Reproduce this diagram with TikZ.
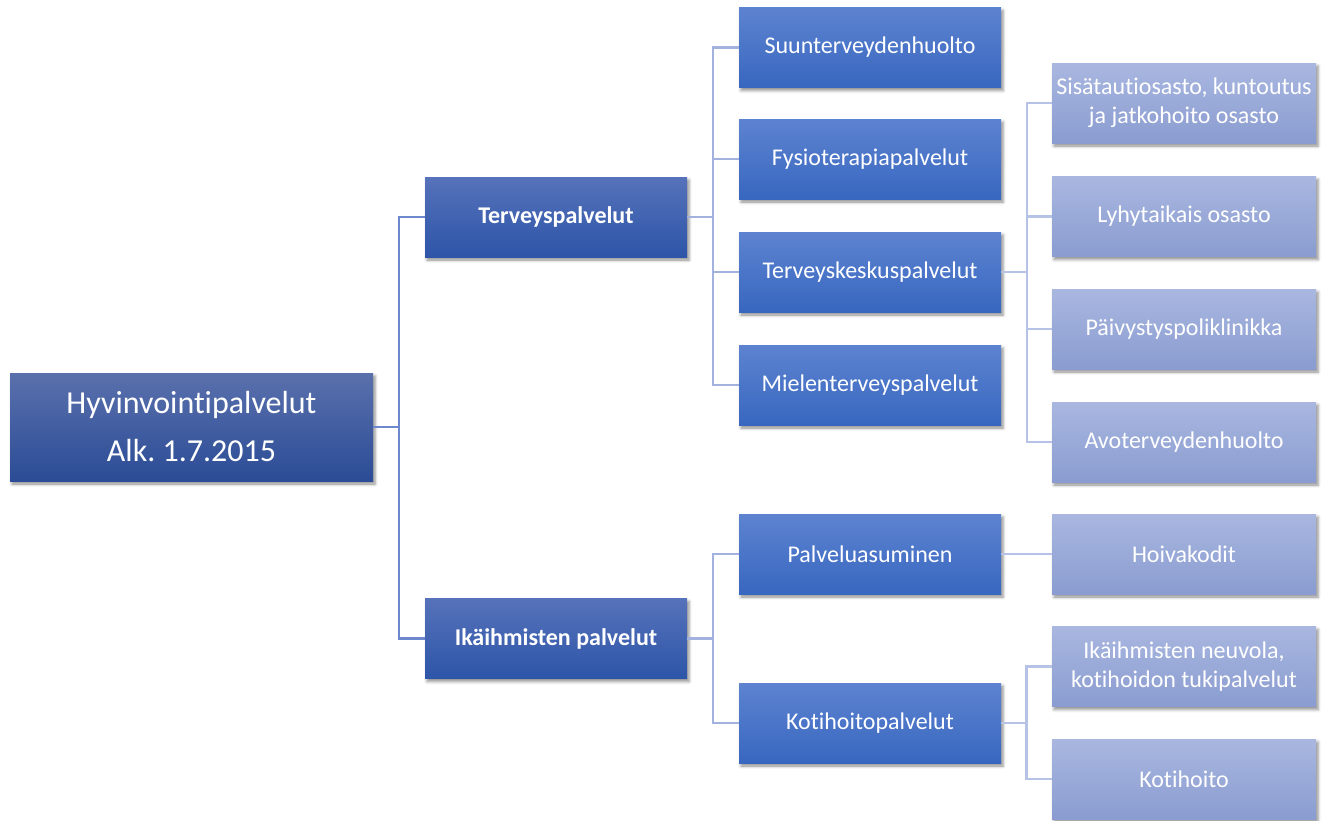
\documentclass[tikz,border=0pt]{standalone}
\usepackage{fontspec}
\setmainfont[Ligatures=NoCommon]{Carlito}
\frenchspacing
\usetikzlibrary{shadows.blur}
\definecolor{rootT}{HTML}{5A70AC}
\definecolor{rootB}{HTML}{2B4C96}
\definecolor{lvlaT}{HTML}{5672BA}
\definecolor{lvlaB}{HTML}{2D55A8}
\definecolor{lvlbT}{HTML}{5D83D0}
\definecolor{lvlbB}{HTML}{3867C0}
\definecolor{lvlcT}{HTML}{A9B7E0}
\definecolor{lvlcB}{HTML}{8A9CD0}
\definecolor{lineA}{HTML}{6F87CC}
\definecolor{lineB}{HTML}{A2B1DE}
\definecolor{lineC}{HTML}{B7C3E6}
\tikzset{
  box/.style={rectangle, text=white, align=center, inner sep=0pt,
    blur shadow={shadow xshift=2pt, shadow yshift=-3pt, shadow blur radius=3pt, shadow opacity=45}},
  rootbox/.style={box, minimum width=363pt, minimum height=108pt, top color=rootT, bottom color=rootB,
    font=\fontsize{32}{48}\selectfont},
  boxa/.style={box, minimum width=262pt, minimum height=80pt, top color=lvlaT, bottom color=lvlaB,
    font=\fontsize{24}{29}\selectfont\bfseries},
  boxb/.style={box, minimum width=262pt, minimum height=80pt, top color=lvlbT, bottom color=lvlbB,
    font=\fontsize{24}{29}\selectfont},
  boxc/.style={box, minimum width=264pt, minimum height=80pt, top color=lvlcT, bottom color=lvlcB,
    font=\fontsize{24}{29}\selectfont},
  linka/.style={draw=lineA, line width=2.5pt},
  linkb/.style={draw=lineB, line width=2.5pt},
  linkc/.style={draw=lineC, line width=2.5pt},
}
\begin{document}
\begin{tikzpicture}[x=1pt,y=-1pt]
\useasboundingbox (0,0) rectangle (1325,820);
% nodes
\node[rootbox] (root) at (191.5,427) {Hyvinvointipalvelut\\Alk. 1.7.2015};
\node[boxa] (ter) at (556,217) {Terveyspalvelut};
\node[boxa] (ika) at (556,638.5) {Ikäihmisten palvelut};
\node[boxb] (suu) at (870,47.5) {Suunterveydenhuolto};
\node[boxb] (fys) at (870,159) {Fysioterapiapalvelut};
\node[boxb] (tk) at (870,272) {Terveyskeskuspalvelut};
\node[boxb] (mie) at (870,385) {Mielenterveyspalvelut};
\node[boxb] (pal) at (870,554) {Palveluasuminen};
\node[boxb] (kot) at (870,723) {Kotihoitopalvelut};
\node[boxc] (sis) at (1184,103) {Sisätautiosasto, kuntoutus\\ja jatkohoito osasto};
\node[boxc] (lyh) at (1184,216.5) {Lyhytaikais osasto};
\node[boxc] (paiv) at (1184,329) {Päivystyspoliklinikka};
\node[boxc] (avo) at (1184,442) {Avoterveydenhuolto};
\node[boxc] (hoi) at (1184,554) {Hoivakodit};
\node[boxc] (neu) at (1184,666.5) {Ikäihmisten neuvola,\\kotihoidon tukipalvelut};
\node[boxc] (koti) at (1184,779) {Kotihoito};
% connectors
\draw[linka] (root.east) -- ++(26,0) |- (ter.west);
\draw[linka] (root.east) -- ++(26,0) |- (ika.west);
\foreach \t in {suu,fys,tk,mie}{
  \draw[linkb] (ter.east) -- ++(26,0) |- (\t.west);
}
\foreach \t in {pal,kot}{
  \draw[linkb] (ika.east) -- ++(26,0) |- (\t.west);
}
\foreach \t in {sis,lyh,paiv,avo}{
  \draw[linkc] (tk.east) -- ++(26,0) |- (\t.west);
}
\draw[linkc] (pal.east) -- (hoi.west);
\foreach \t in {neu,koti}{
  \draw[linkc] (kot.east) -- ++(25.5,0) |- (\t.west);
}
\end{tikzpicture}
\end{document}
